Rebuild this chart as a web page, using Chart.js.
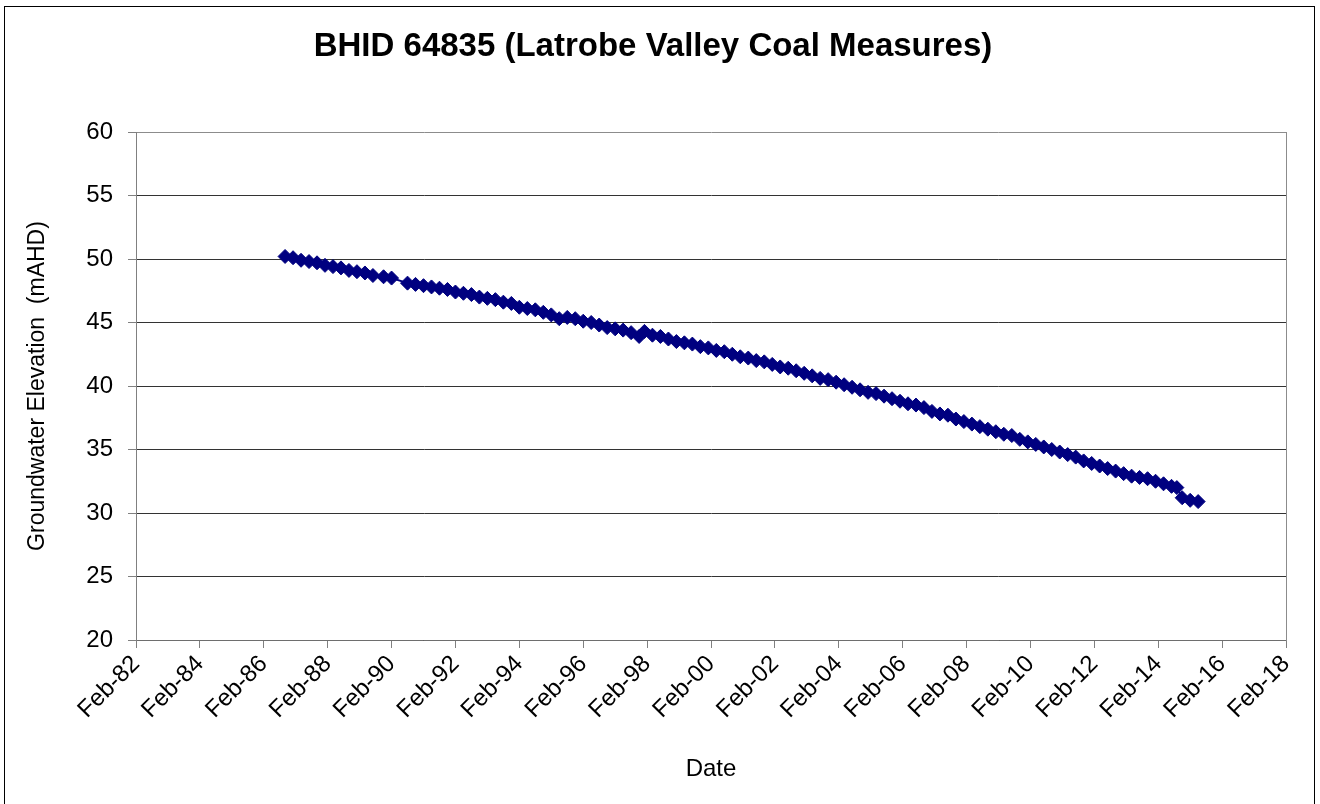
<!DOCTYPE html>
<html>
<head>
<meta charset="utf-8">
<script src="https://cdn.jsdelivr.net/npm/chart.js@4"></script>
<style>
  body { margin: 0; background: #fff; }
  #wrap { position: relative; width: 1320px; height: 804px; }
  #frame { position: absolute; left: 4px; top: 6px; width: 1311px; height: 800px; border: 1px solid #000; box-sizing: border-box; pointer-events: none; }
</style>
</head>
<body>
<div id="wrap">
  <canvas id="levelChart" width="1320" height="804"></canvas>
  <div id="frame"></div>
</div>
<script>
// dates of readings (YYYY-MM) and groundwater elevation (mAHD)
const dates = [
  '1986-10','1987-01','1987-04','1987-07','1987-10','1988-01','1988-04','1988-07','1988-10',
  '1989-01','1989-04','1989-07','1989-11','1990-02',
  '1990-08','1990-11','1991-02','1991-05','1991-08','1991-11','1992-02','1992-05','1992-08','1992-11',
  '1993-02','1993-05','1993-08','1993-11','1994-02','1994-05','1994-08','1994-11',
  '1995-02','1995-05','1995-08','1995-11','1996-02','1996-05','1996-08','1996-11',
  '1997-02','1997-05','1997-08','1997-11','1998-01','1998-04','1998-07','1998-10',
  '1999-01','1999-04','1999-07','1999-10','2000-01','2000-04','2000-07','2000-10',
  '2001-01','2001-04','2001-07','2001-10','2002-01','2002-04','2002-07','2002-10',
  '2003-01','2003-04','2003-07','2003-10','2004-01','2004-04','2004-07','2004-10',
  '2005-01','2005-04','2005-07','2005-10','2006-01','2006-04','2006-07','2006-10',
  '2007-01','2007-04','2007-07','2007-10','2008-01','2008-04','2008-07','2008-10',
  '2009-01','2009-04','2009-07','2009-10','2010-01','2010-04','2010-07','2010-10',
  '2011-01','2011-04','2011-07','2011-10','2012-01','2012-04','2012-07','2012-10',
  '2013-01','2013-04','2013-07','2013-10','2014-01','2014-04','2014-07','2014-09',
  '2014-11','2015-02','2015-05'
];
const levels = [
  50.2, 50.1, 49.9, 49.8, 49.7, 49.5, 49.4, 49.3, 49.1,
  49.0, 48.9, 48.7, 48.6, 48.5,
  48.1, 48.0, 47.9, 47.8, 47.7, 47.6, 47.4, 47.3, 47.2, 47.0,
  46.9, 46.8, 46.6, 46.5, 46.2, 46.1, 46.0, 45.8,
  45.6, 45.3, 45.4, 45.3, 45.1, 45.0, 44.8, 44.6,
  44.5, 44.4, 44.2, 43.9, 44.3, 44.0, 43.9, 43.7,
  43.5, 43.4, 43.3, 43.1, 43.0, 42.8, 42.7, 42.5,
  42.3, 42.2, 42.0, 41.9, 41.7, 41.5, 41.4, 41.2,
  41.0, 40.8, 40.6, 40.5, 40.3, 40.1, 39.9, 39.7,
  39.5, 39.4, 39.2, 39.0, 38.8, 38.6, 38.5, 38.3,
  38.0, 37.8, 37.7, 37.4, 37.2, 37.0, 36.8, 36.6,
  36.4, 36.2, 36.1, 35.8, 35.6, 35.4, 35.2, 35.0,
  34.8, 34.6, 34.4, 34.1, 33.9, 33.7, 33.5, 33.3,
  33.1, 32.9, 32.8, 32.7, 32.5, 32.3, 32.1, 32.0,
  31.2, 31.0, 30.9
];
const tickYears = [1982, 1984, 1986, 1988, 1990, 1992, 1994, 1996, 1998, 2000, 2002, 2004, 2006, 2008, 2010, 2012, 2014, 2016, 2018];
const tickLabels = tickYears.map(y => 'Feb-' + String(y).slice(2));

function toYear(s) {
  const parts = s.split('-');
  return Number(parts[0]) + (Number(parts[1]) - 1) / 12;
}

const points = dates.map((d, i) => ({ x: toYear(d), y: levels[i] }));

Chart.defaults.font.family = '"Liberation Sans", Arial, sans-serif';
Chart.defaults.color = '#000';

const levelChart = new Chart(
  document.getElementById('levelChart'),
  {
    type: 'line',
    data: {
      datasets: [{
        label: 'BHID 64835',
        data: points,
        borderColor: '#000080',
        backgroundColor: '#000080',
        borderWidth: 2,
        pointStyle: 'rectRot',
        pointRadius: 7,
        pointBorderWidth: 1,
        tension: 0
      }]
    },
    options: {
      responsive: false,
      animation: false,
      layout: { padding: { left: 20, right: 34, top: 6, bottom: 8 } },
      plugins: {
        legend: { display: false },
        tooltip: { enabled: false },
        title: {
          display: true,
          text: 'BHID 64835 (Latrobe Valley Coal Measures)',
          font: { size: 33, weight: 'bold' },
          color: '#000',
          padding: { top: 21, bottom: 65.4 }
        }
      },
      scales: {
        x: {
          type: 'linear',
          position: 'bottom',
          min: toYear('1982-02'),
          max: toYear('2018-02'),
          afterBuildTicks: function(scale) {
            scale.ticks = tickYears.map(y => ({ value: y + 1 / 12 }));
          },
          afterFit: function(scale) { scale.height = 156; },
          ticks: {
            autoSkip: false,
            maxRotation: 45,
            minRotation: 45,
            padding: 2,
            font: { size: 24 },
            callback: function(value, index) { return tickLabels[index]; }
          },
          grid: { drawOnChartArea: false, tickLength: 8, color: '#808080' },
          border: { color: '#6e6e6e', width: 1 },
          title: {
            display: true,
            text: 'Date',
            font: { size: 24 },
            padding: { top: 4, bottom: 12 }
          }
        },
        y: {
          min: 20,
          max: 60,
          afterFit: function(scale) { scale.width = 116; },
          ticks: { stepSize: 5, padding: 15, font: { size: 24 } },
          grid: {
            tickLength: 8,
            tickColor: '#808080',
            color: function(ctx) { return ctx.tick && ctx.tick.value === 60 ? '#8c8c8c' : '#333'; }
          },
          border: { color: '#808080', width: 1 },
          title: {
            display: true,
            text: 'Groundwater Elevation  (mAHD)',
            font: { size: 23 },
            padding: 4
          }
        },
        y2: {
          position: 'right',
          min: 20,
          max: 60,
          ticks: { display: false },
          grid: { drawOnChartArea: false, drawTicks: false },
          border: { color: '#8c8c8c', width: 1 }
        }
      }
    }
  }
);
</script>
</body>
</html>
